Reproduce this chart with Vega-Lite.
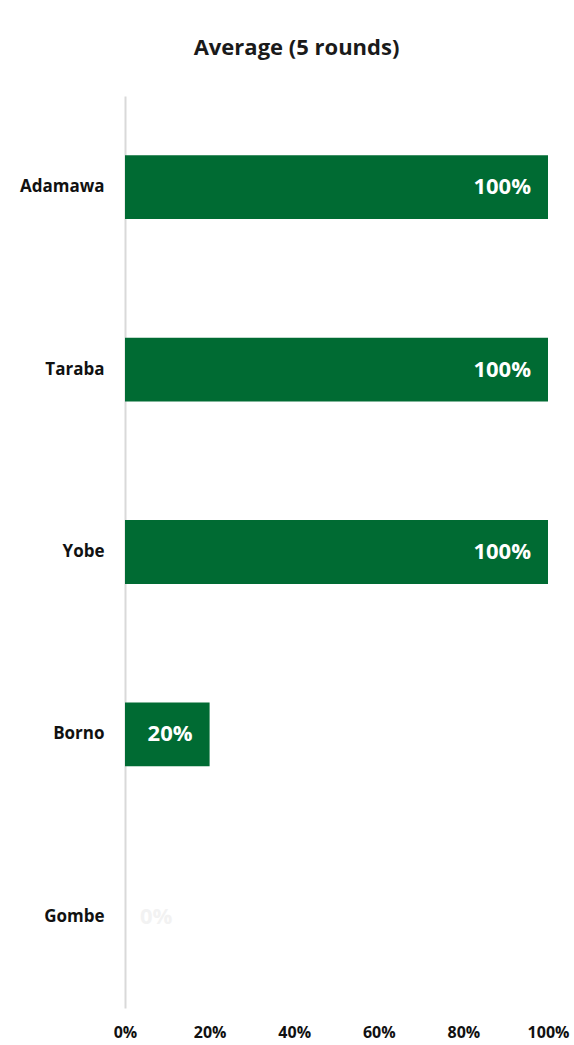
{
  "$schema": "https://vega.github.io/schema/vega-lite/v6.json",
  "autosize": {"type": "none"},
  "padding": {"left": 125, "top": 96, "right": 26, "bottom": 37},
  "width": 423,
  "height": 912,
  "background": "white",
  "config": {"view": {"stroke": null}},
  "title": {"text": "Average (5 rounds)", "fontSize": 22, "font": "Open Sans", "fontWeight": "bold", "color": "#1a1a1a", "offset": 36, "anchor": "middle", "dx": -40},
  "data": {"values": [
    {"state": "Adamawa", "value": 1.0},
    {"state": "Taraba", "value": 1.0},
    {"state": "Yobe", "value": 1.0},
    {"state": "Borno", "value": 0.2},
    {"state": "Gombe", "value": 0.0}
  ]},
  "encoding": {
    "y": {"field": "state", "type": "nominal", "sort": null,
      "scale": {"paddingInner": 0.65, "paddingOuter": 0.325},
      "axis": {"title": null, "ticks": false, "domainColor": "#d9d9d9", "domainWidth": 2, "labelFont": "Open Sans", "labelFontSize": 17, "labelFontWeight": "bold", "labelColor": "#111111", "labelPadding": 21}},
    "x": {"field": "value", "type": "quantitative",
      "scale": {"domain": [0, 1]},
      "axis": {"title": null, "format": ".0%", "values": [0, 0.2, 0.4, 0.6, 0.8, 1], "domain": false, "ticks": false, "grid": false, "labelFont": "Open Sans", "labelFontSize": 16, "labelFontWeight": "bold", "labelColor": "#111111", "labelPadding": 16, "labelFlush": false}}
  },
  "layer": [
    {"mark": {"type": "bar", "color": "#006b33"}},
    {"transform": [{"filter": "datum.value > 0"}],
     "mark": {"type": "text", "align": "right", "dx": -17, "color": "white", "font": "Open Sans", "fontSize": 22, "fontWeight": "bold"},
     "encoding": {"text": {"field": "value", "type": "quantitative", "format": ".0%"}}},
    {"transform": [{"filter": "datum.value == 0"}],
     "mark": {"type": "text", "align": "left", "dx": 15, "color": "#f2f2f2", "font": "Open Sans", "fontSize": 22, "fontWeight": "bold"},
     "encoding": {"text": {"field": "value", "type": "quantitative", "format": ".0%"}}}
  ]
}
